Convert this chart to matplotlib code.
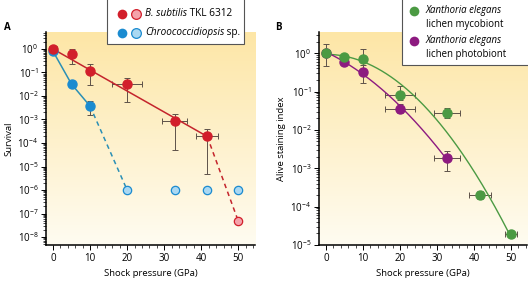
import numpy as np
import matplotlib
matplotlib.use('Agg')
import matplotlib.pyplot as plt
from matplotlib.colors import LinearSegmentedColormap
from matplotlib.patches import Rectangle
from matplotlib.lines import Line2D

plt.rcParams['font.family'] = ['Open Sans', 'DejaVu Sans']
plt.rcParams['font.size'] = 6
plt.rcParams['mathtext.fontset'] = 'custom'
plt.rcParams['mathtext.rm'] = 'Open Sans'
plt.rcParams['mathtext.it'] = 'Open Sans:italic'
plt.rcParams['mathtext.default'] = 'regular'

# ---- panel A data ----
bs_x = [0, 5, 10, 20, 32.8, 41.6]
bs_y = [1.0, 0.6, 0.12, 0.032, 8.7e-4, 1.9e-4]
bs_lo = [0.66, 0.23, 0.03, 0.0054, 5e-5, 4.8e-6]
bs_hi = [1.35, 1.0, 0.22, 0.06, 1.7e-3, 3.8e-4]
bs_xerr = [1.0, 0, 0, 4.0, 3.4, 2.9]
bs_open_x = [50]
bs_open_y = [4.7e-8]

ch_x = [0, 5, 10]
ch_y = [0.8, 0.032, 0.0037]
ch_lo = [0.7, 0.026, 0.00155]
ch_hi = [0.9, 0.038, 0.0063]
ch_open_x = [20, 32.8, 41.6, 50]
ch_open_y = [1e-6, 1e-6, 1e-6, 1e-6]

# ---- panel B data ----
my_x = [0, 5, 10, 20, 32.6, 41.6, 50]
my_y = [1.0, 0.8, 0.69, 0.082, 0.028, 2e-4, 1.95e-5]
my_lo = [0.45, 0.75, 0.35, 0.06, 0.021, 1.6e-4, 1.8e-5]
my_hi = [1.7, 0.85, 1.27, 0.14, 0.038, 2.5e-4, 2.1e-5]
my_xerr = [1.0, 0, 0, 4.0, 3.5, 3.0, 1.5]

ph_x = [0, 5, 10, 20, 32.6]
ph_y = [1.0, 0.6, 0.33, 0.036, 1.8e-3]
ph_lo = [0.9, 0.55, 0.17, 0.027, 8.7e-4]
ph_hi = [1.1, 0.65, 0.5, 0.047, 2.8e-3]
ph_xerr = [0, 0, 0, 4.0, 3.5]

RED, RED_PALE = '#d21f2b', '#f4a3ab'
BLUE, BLUE_PALE = '#1b8bd0', '#aad8f2'
RED_LINE, BLUE_LINE = '#c4242c', '#2a8fb5'
GREEN, PURPLE = '#4b9a43', '#8d1a80'
ERR = '#5e5249'

bg = LinearSegmentedColormap.from_list('bg', ['#fffcf1', '#fde6a6'])


def style_axes(ax, ylo, yhi):
    ax.set_yscale('log')
    ax.set_xlim(-1.9, 54.5)
    ax.set_ylim(ylo, yhi)
    ax.imshow(np.linspace(0, 1, 256).reshape(-1, 1), cmap=bg, aspect='auto',
              extent=(0, 1, 0, 1), transform=ax.transAxes, origin='lower', zorder=0)
    for s in ['top', 'right']:
        ax.spines[s].set_visible(False)
    for s in ['left', 'bottom']:
        ax.spines[s].set_linewidth(1.1)
    ax.set_xticks([0, 10, 20, 30, 40, 50])
    ax.set_xticks(np.arange(0, 55, 2), minor=True)
    ax.tick_params(axis='both', which='major', length=3.5, width=0.7, labelsize=7, pad=2)
    ax.tick_params(axis='both', which='minor', length=2, width=0.5)
    ax.set_xlabel('Shock pressure (GPa)', fontsize=6.8, labelpad=4)


def err(ax, x, y, lo, hi, xerr):
    y = np.array(y)
    yerr = [y - np.array(lo), np.array(hi) - y]
    ax.errorbar(x, y, yerr=yerr, xerr=xerr, fmt='none', ecolor=ERR,
                elinewidth=0.7, capsize=2.2, capthick=0.7, zorder=2)


fig = plt.figure(figsize=(5.28, 2.81), dpi=100)
axA = fig.add_axes([0.087, 0.128, 0.396, 0.758])
axB = fig.add_axes([0.604, 0.128, 0.394, 0.758])

# ---- panel A ----
style_axes(axA, 10 ** -8.34, 10 ** 0.72)
axA.set_yticks([10.0 ** k for k in range(0, -9, -1)])
axA.set_ylabel('Survival', fontsize=6.8, labelpad=3)

err(axA, bs_x, bs_y, bs_lo, bs_hi, bs_xerr)
err(axA, ch_x, ch_y, ch_lo, ch_hi, 0)
axA.plot([bs_x[0], bs_x[-1]], [bs_y[0], bs_y[-1]], color=RED_LINE, lw=1.1, zorder=3)
axA.plot([bs_x[-1], bs_open_x[0]], [bs_y[-1], bs_open_y[0]], color=RED_LINE, lw=1.1,
         ls=(0, (3, 2.5)), zorder=3)
axA.plot(ch_x, ch_y, color=BLUE_LINE, lw=1.1, zorder=3)
axA.plot([ch_x[-1], ch_open_x[0]], [ch_y[-1], ch_open_y[0]], color=BLUE_LINE, lw=1.1,
         ls=(0, (3, 2.5)), zorder=3)
axA.plot(ch_x, ch_y, 'o', ms=6.5, color=BLUE, mec=BLUE, zorder=4)
axA.plot(bs_x, bs_y, 'o', ms=6.5, color=RED, mec=RED, zorder=5)
axA.plot(ch_open_x, ch_open_y, 'o', ms=6, mfc=BLUE_PALE, mec=BLUE, mew=0.9, zorder=4)
axA.plot(bs_open_x, bs_open_y, 'o', ms=6, mfc=RED_PALE, mec=RED, mew=0.9, zorder=4)

# ---- panel B ----
style_axes(axB, 1e-5, 10 ** 0.55)
axB.set_xlim(-1.9, 54.3)
axB.set_yticks([10.0 ** k for k in range(0, -6, -1)])
axB.set_ylabel('Alive staining index', fontsize=6.8, labelpad=3)

err(axB, my_x, my_y, my_lo, my_hi, my_xerr)
err(axB, ph_x, ph_y, ph_lo, ph_hi, ph_xerr)
for xs, ys, c in [(my_x, my_y, GREEN), (ph_x, ph_y, PURPLE)]:
    coef = np.polyfit(xs, np.log10(ys), 2)
    xx = np.linspace(xs[0], xs[-1], 200)
    axB.plot(xx, 10 ** np.polyval(coef, xx), color=c, lw=1.0, zorder=3)
axB.plot(ph_x, ph_y, 'o', ms=6.5, color=PURPLE, zorder=4)
axB.plot(my_x, my_y, 'o', ms=6.5, color=GREEN, zorder=5)

# panel letters
fig.text(0.008, 0.895, 'A', fontsize=7, fontweight='bold')
fig.text(0.522, 0.895, 'B', fontsize=7, fontweight='bold')


# ---- hand-built legends (mixed italic / roman text) ----
def box(x0, y0, x1, y1):
    fig.patches.append(Rectangle((x0 / 528, 1 - y1 / 281), (x1 - x0) / 528, (y1 - y0) / 281,
                                 transform=fig.transFigure, fc='white', ec='#555555',
                                 lw=0.8, zorder=10))


def dot(x, y, fc, ec):
    fig.lines.append(Line2D([x / 528], [1 - y / 281], marker='o', ms=7, mfc=fc, mec=ec,
                            mew=0.9 if fc != ec else 0, transform=fig.transFigure, zorder=11))


def label(x, y, it, rm='', fs=7.2):
    t = fig.text(x / 528, 1 - y / 281, it, style='italic', fontsize=fs, va='center', zorder=11)
    if rm:
        fig.texts.append(plt.Annotation(rm, xy=(1, 0.5), xycoords=t, va='center', fontsize=fs,
                                        zorder=11))
        fig.texts[-1].set_figure(fig)


box(107, -2, 244, 44)
dot(122, 14, RED, RED)
dot(136, 14, RED_PALE, RED)
dot(122, 33, BLUE, BLUE)
dot(136, 33, BLUE_PALE, BLUE)
label(145, 14, 'B. subtilis', ' TKL 6312')
label(145, 33, 'Chroococcidiopsis', ' sp.')

box(402, -2, 530, 65)
dot(414, 11, GREEN, GREEN)
dot(414, 41, PURPLE, PURPLE)
fig.text(426 / 528, 1 - 11 / 281, 'Xanthoria elegans', style='italic', fontsize=6.9,
         va='center', zorder=11)
fig.text(426 / 528, 1 - 24 / 281, 'lichen mycobiont', fontsize=6.9, va='center', zorder=11)
fig.text(426 / 528, 1 - 41 / 281, 'Xanthoria elegans', style='italic', fontsize=6.9,
         va='center', zorder=11)
fig.text(426 / 528, 1 - 54 / 281, 'lichen photobiont', fontsize=6.9, va='center', zorder=11)

fig.savefig('out.png', dpi=100)
